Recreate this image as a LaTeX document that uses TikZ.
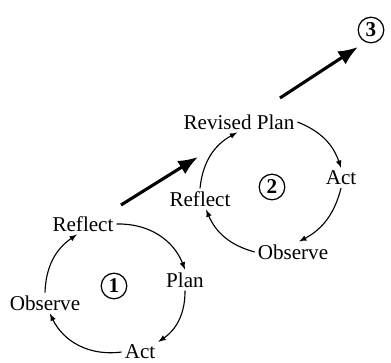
\documentclass[tikz,border=0pt]{standalone}
\usepackage{fontspec}
\setmainfont{Liberation Serif}
\usetikzlibrary{arrows.meta}
\tikzset{>=latex}
\tikzset{
  stage/.style = {font=\fontsize{15}{18}\selectfont, inner sep=2pt},
  cycleno/.style = {draw, circle, line width=0.9pt, minimum size=0.64cm, inner sep=0pt, font=\fontsize{15}{18}\selectfont\bfseries},
  cyclearrow/.style = {->, line width=0.8pt},
  leap/.style = {-{Latex[length=14pt,width=11pt]}, line width=2.2pt}
}

\begin{document}
\begin{tikzpicture}[x=0.025cm, y=-0.025cm]
            \useasboundingbox (0, 0) rectangle (391, 363);
            % first cycle
            \node[stage] (refl1) at (83, 224) {Reflect};
            \node[stage] (plan1) at (185, 280) {Plan};
            \node[stage] (act1) at (140, 352) {Act};
            \node[stage] (obs1) at (45, 303) {Observe};
            \node[cycleno] (one) at (114, 286) {1};
            \draw[cyclearrow] (refl1.east) to[bend left=35] (plan1.north);
            \draw[cyclearrow] (plan1.south) to[bend left=28] (act1.north east);
            \draw[cyclearrow] (act1.west) to[bend left=36] (obs1.-65);
            \draw[cyclearrow] (obs1.north) to[bend left=27] (refl1.-120);
            % second cycle
            \node[stage] (plan2) at (239, 122) {Revised Plan};
            \node[stage] (act2) at (341, 178) {Act};
            \node[stage] (obs2) at (293, 252) {Observe};
            \node[stage] (refl2) at (200, 199) {Reflect};
            \node[cycleno] (two) at (272, 187) {2};
            \draw[cyclearrow] (plan2.east) to[bend left=25] (act2.north);
            \draw[cyclearrow] (act2.south) to[bend left=24] (obs2.60);
            \draw[cyclearrow] (obs2.west) to[bend left=26] (refl2.-60);
            \draw[cyclearrow] (refl2.north) to[bend left=28] (plan2.-100);
            % third cycle
            \node[cycleno] (three) at (371, 30) {3};
            \coordinate (s1) at (121, 205);
            \coordinate (e1) at (198, 157);
            \coordinate (s2) at (280, 98);
            \coordinate (e2) at (358, 47);
            \draw[leap] (s1) -- (e1);
            \draw[leap] (s2) -- (e2);
\end{tikzpicture}
\end{document}
